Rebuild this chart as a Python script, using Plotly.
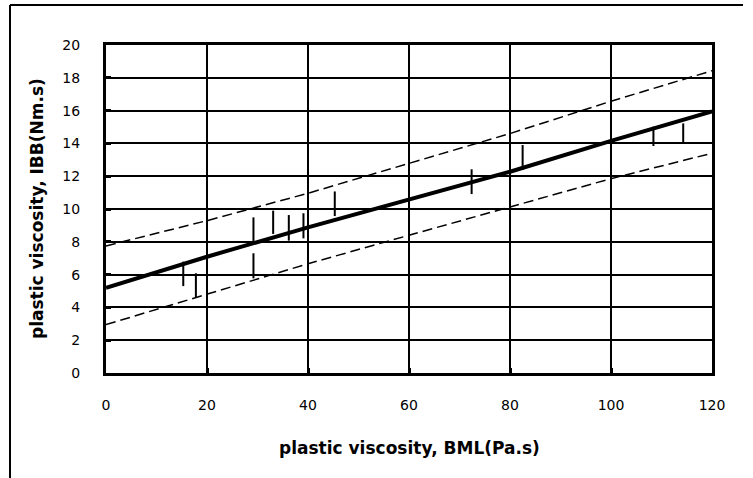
import plotly.graph_objects as go

# ---- data ----
bar_x    = [15.3, 17.8, 29.2, 29.2, 33.1, 36.2, 39.1, 45.3, 72.4, 82.5, 108.4, 114.3]
bar_low  = [5.30, 4.60, 7.97, 5.77, 8.48, 8.07, 8.21, 9.57, 10.91, 12.38, 13.84, 14.00]
bar_high = [6.79, 6.08, 9.49, 7.30, 9.90, 9.63, 9.74, 11.07, 12.42, 13.90, 15.02, 15.22]

line_x     = [0, 20, 40, 60, 80, 100, 120]
fit_y      = [5.2, 7.09, 8.88, 10.55, 12.27, 14.15, 15.95]
upper_y    = [7.75, 9.29, 10.96, 12.8, 14.6, 16.57, 18.43]
lower_y    = [2.95, 4.79, 6.66, 8.4, 10.12, 11.85, 13.4]

x_ticks = [0, 20, 40, 60, 80, 100, 120]
y_ticks = [0, 2, 4, 6, 8, 10, 12, 14, 16, 18, 20]

x_title = "plastic viscosity, BML(Pa.s)"
y_title = "plastic viscosity, IBB(Nm.s)"

# ---- build figure ----
seg_x, seg_y = [], []
for xv, lo, hi in zip(bar_x, bar_low, bar_high):
    seg_x += [xv, xv, None]
    seg_y += [lo, hi, None]

fig = go.Figure()
fig.add_trace(go.Scatter(x=line_x, y=upper_y, mode="lines",
                         line=dict(color="black", width=1.5, dash="10px,5px"),
                         hoverinfo="skip", showlegend=False))
fig.add_trace(go.Scatter(x=line_x, y=lower_y, mode="lines",
                         line=dict(color="black", width=1.5, dash="10px,5px"),
                         hoverinfo="skip", showlegend=False))
fig.add_trace(go.Scatter(x=line_x, y=fit_y, mode="lines",
                         line=dict(color="black", width=4),
                         hoverinfo="skip", showlegend=False))
fig.add_trace(go.Scatter(x=seg_x, y=seg_y, mode="lines",
                         line=dict(color="black", width=2),
                         hoverinfo="skip", showlegend=False))

W, H = 753, 478
L, R, T, B = 106, 41, 45, 105
pw, ph = W - L - R, H - T - B

def px(xp):
    return (xp - L) / pw

def py(yp):
    return (H - B - yp) / ph

tickfont = dict(family="DejaVu Sans, Liberation Sans, Arial", size=14, color="black")
titlefont = dict(family="DejaVu Sans, Liberation Sans, Arial", size=17, color="black", weight="bold")

fig.update_layout(
    width=W, height=H,
    margin=dict(l=L, r=R, t=T, b=B, autoexpand=False),
    paper_bgcolor="white", plot_bgcolor="white",
    showlegend=False,
    xaxis=dict(range=[0, 120], tickvals=x_ticks, ticktext=[str(v) for v in x_ticks],
               showgrid=True, gridcolor="black", gridwidth=2,
               showline=True, linecolor="black", linewidth=3, mirror=True,
               ticks="inside", ticklen=5, tickwidth=3, tickcolor="black",
               ticklabelstandoff=17, tickfont=tickfont, zeroline=False),
    yaxis=dict(range=[0, 20], tickvals=y_ticks, ticktext=[str(v) for v in y_ticks],
               showgrid=True, gridcolor="black", gridwidth=2,
               showline=True, linecolor="black", linewidth=3, mirror=True,
               ticks="inside", ticklen=5, tickwidth=3, tickcolor="black",
               ticklabelstandoff=20, tickfont=tickfont, zeroline=False),
    annotations=[
        dict(text=x_title, xref="paper", yref="paper", x=0.5, y=py(448),
             xanchor="center", yanchor="middle", showarrow=False, font=titlefont),
        dict(text=y_title, xref="paper", yref="paper", x=px(37), y=0.5,
             xanchor="center", yanchor="middle", textangle=-90, showarrow=False,
             font=titlefont),
    ],
    shapes=[
        dict(type="line", xref="paper", yref="paper", x0=px(10), x1=px(743),
             y0=py(5), y1=py(5), line=dict(color="black", width=2)),
        dict(type="line", xref="paper", yref="paper", x0=px(10), x1=px(10),
             y0=py(5), y1=py(480), line=dict(color="black", width=2)),
    ],
)

fig.write_html("out.html", config={"displayModeBar": False},
               post_script="document.body.style.margin='0';document.body.style.overflow='hidden';")
